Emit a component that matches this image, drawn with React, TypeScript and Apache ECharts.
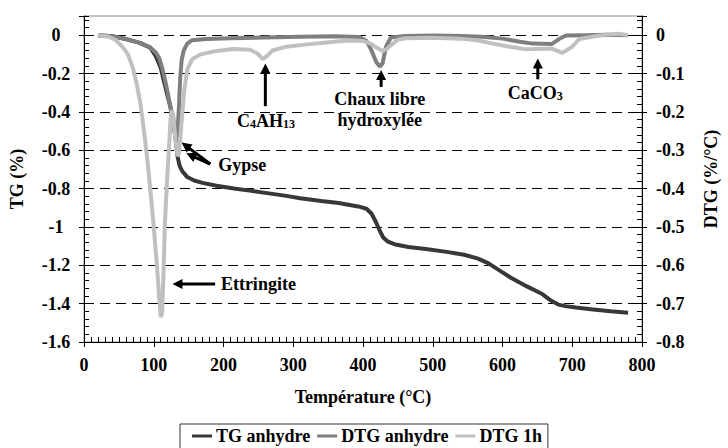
import React, { useEffect, useRef } from 'react';
import * as echarts from 'echarts';

const FONT = "'Liberation Serif', 'Times New Roman', serif";

// Temperature (°C), TG (%)
const tgAnhydre: number[][] = [
  [20, 0], [40, -0.005], [60, -0.02], [80, -0.04], [95, -0.065], [103, -0.11], [110, -0.17],
  [115, -0.245], [120, -0.32], [124, -0.375], [128, -0.44], [131, -0.53], [134, -0.63],
  [137, -0.68], [141, -0.71], [148, -0.74], [158, -0.758], [170, -0.77], [190, -0.785],
  [215, -0.8], [240, -0.812], [265, -0.825], [290, -0.838], [310, -0.85], [340, -0.865],
  [365, -0.875], [393, -0.893], [405, -0.905], [412, -0.93], [418, -0.97], [424, -1.02],
  [429, -1.055], [435, -1.075], [445, -1.09], [465, -1.105], [490, -1.115], [520, -1.13],
  [545, -1.145], [565, -1.165], [580, -1.19], [595, -1.225], [612, -1.265], [635, -1.31],
  [657, -1.35], [670, -1.385], [680, -1.405], [690, -1.413], [705, -1.42], [730, -1.43],
  [755, -1.44], [780, -1.448],
];

// Temperature (°C), DTG (%/°C)
const dtgAnhydre: number[][] = [
  [20, 0], [40, -0.003], [60, -0.01], [80, -0.02], [95, -0.032], [103, -0.045], [108, -0.06],
  [112, -0.085], [116, -0.115], [120, -0.15], [124, -0.19], [127, -0.22], [130, -0.255],
  [132, -0.27], [134, -0.255], [136, -0.19], [138, -0.11], [140, -0.065], [143, -0.04],
  [148, -0.022], [155, -0.013], [175, -0.01], [210, -0.008], [260, -0.006], [310, -0.004],
  [360, -0.003], [395, -0.005], [405, -0.015], [412, -0.039], [419, -0.07], [424, -0.082],
  [428, -0.074], [433, -0.03], [440, -0.006], [460, -0.002], [500, -0.001], [540, -0.002],
  [570, -0.004], [600, -0.009], [625, -0.017], [643, -0.022], [671, -0.023], [681, -0.01],
  [691, -0.001], [720, 0], [750, 0.001], [780, 0],
];

const dtg1h: number[][] = [
  [20, 0], [35, -0.004], [45, -0.012], [55, -0.03], [63, -0.05], [70, -0.085], [76, -0.13],
  [81, -0.18], [85, -0.235], [88, -0.28], [92, -0.345], [96, -0.42], [100, -0.5], [105, -0.61],
  [108, -0.69], [110, -0.735], [112, -0.725], [114, -0.62], [116, -0.49], [119, -0.38],
  [122, -0.29], [124, -0.22], [126, -0.195], [128, -0.21], [131, -0.27], [134, -0.315],
  [136, -0.31], [138, -0.27], [141, -0.2], [144, -0.14], [148, -0.09], [155, -0.063],
  [167, -0.05], [190, -0.041], [214, -0.036], [238, -0.038], [248, -0.047], [256, -0.062],
  [262, -0.055], [270, -0.04], [290, -0.03], [320, -0.024], [355, -0.018], [380, -0.014],
  [400, -0.015], [411, -0.022], [420, -0.033], [428, -0.041], [434, -0.036], [440, -0.026],
  [450, -0.012], [460, -0.008], [500, -0.007], [540, -0.009], [565, -0.014], [586, -0.022],
  [610, -0.03], [634, -0.037], [671, -0.035], [686, -0.046], [700, -0.03], [710, -0.01],
  [728, -0.004], [750, 0.002], [766, 0.004], [780, 0],
];

const seriesNames = ['TG anhydre', 'DTG anhydre', 'DTG 1h'];
const seriesColors = ['#383838', '#7f7f7f', '#c0c0c0'];

// annotations in (Temperature, DTG) coordinates
const annotationTexts = [
  { text: 'Ettringite', at: [250, -0.65] },
  { text: 'Gypse', at: [227, -0.339] },
  { text: '{n|C}{s|4}{n|AH}{s|13}', at: [261, -0.224] },
  { text: 'Chaux libre\nhydroxylée', at: [424, -0.195] },
  { text: '{n|CaCO}{s|3}', at: [647, -0.15] },
];
const annotationArrows = [
  { from: [188, -0.649], to: [126.8, -0.649] },
  { from: [181, -0.336], to: [140, -0.28] },
  { from: [181, -0.336], to: [146.6, -0.308] },
  { from: [260, -0.185], to: [260, -0.074] },
  { from: [426, -0.135], to: [426, -0.091] },
  { from: [650.6, -0.115], to: [650.6, -0.061] },
];

const labelStyle = { fontFamily: FONT, fontSize: 18, fontWeight: 'bold' as const, color: '#000' };

export default function App() {
  const ref = useRef<HTMLDivElement>(null);
  useEffect(() => {
    const chart = echarts.init(ref.current!, null, { renderer: 'svg' });
    const baseY = {
      type: 'value' as const,
      axisLine: { show: true, onZero: false, lineStyle: { color: '#000', width: 1 } },
    };
    const option: any = {
      animation: false,
      backgroundColor: '#fff',
      textStyle: { fontFamily: FONT },
      grid: { left: 82, right: 80, top: 16, bottom: 106, show: true, borderColor: '#8a8a8a', borderWidth: 1 },
      legend: {
        data: seriesNames,
        left: 180,
        top: 424,
        itemGap: 7,
        itemWidth: 20,
        itemHeight: 3,
        icon: 'rect',
        itemStyle: { borderWidth: 0 },
        padding: [3, 6, 5, 12],
        borderColor: '#333',
        borderWidth: 1,
        textStyle: { ...labelStyle, padding: [0, 0, 0, -1] },
      },
      xAxis: [
        {
          type: 'value', min: 0, max: 800, interval: 100,
          name: 'Température (°C)', nameLocation: 'middle', nameGap: 46,
          nameTextStyle: labelStyle,
          axisLine: { show: true, onZero: false, lineStyle: { color: '#000', width: 1 } },
          axisTick: { show: true, inside: true, length: 5, lineStyle: { color: '#000' } },
          minorTick: { show: true, splitNumber: 10, length: 5, lineStyle: { color: '#000' } },
          axisLabel: { ...labelStyle, margin: 14 },
          splitLine: { show: false },
        },
        {
          type: 'value', min: 0, max: 800, interval: 100, position: 'bottom',
          axisLine: { show: false, onZero: false },
          axisTick: { show: true, inside: false, length: 5, lineStyle: { color: '#000' } },
          axisLabel: { show: false },
          splitLine: { show: false },
        },
      ],
      yAxis: [
        {
          ...baseY, position: 'left', min: -1.6, max: 0.1, interval: 0.2,
          name: 'TG (%)', nameLocation: 'middle', nameGap: 58, nameRotate: 90,
          nameTextStyle: labelStyle,
          axisTick: { show: true, inside: true, length: 5, lineStyle: { color: '#000' } },
          minorTick: { show: true, splitNumber: 5, length: 5, lineStyle: { color: '#000' } },
          axisLabel: { ...labelStyle, margin: 28, align: 'center', showMaxLabel: false },
          splitLine: {
            show: true, showMinLine: false, showMaxLine: false,
            lineStyle: { color: '#000', width: 1, type: [10, 6] },
          },
        },
        {
          ...baseY, position: 'right', min: -0.8, max: 0.05, interval: 0.1,
          name: 'DTG (%/°C)', nameLocation: 'middle', nameGap: 60, nameRotate: 90,
          nameTextStyle: labelStyle,
          axisTick: { show: true, inside: true, length: 5, lineStyle: { color: '#000' } },
          minorTick: { show: true, splitNumber: 5, length: 5, lineStyle: { color: '#000' } },
          axisLabel: { ...labelStyle, margin: 14, align: 'left', showMaxLabel: false },
          splitLine: { show: false },
        },
        {
          type: 'value', position: 'left', min: -1.6, max: 0.1, interval: 0.2,
          axisLine: { show: false, onZero: false },
          axisTick: { show: true, inside: false, length: 5, lineStyle: { color: '#000' } },
          axisLabel: { show: false }, splitLine: { show: false },
        },
        {
          type: 'value', position: 'right', min: -0.8, max: 0.05, interval: 0.1,
          axisLine: { show: false, onZero: false },
          axisTick: { show: true, inside: false, length: 5, lineStyle: { color: '#000' } },
          axisLabel: { show: false }, splitLine: { show: false },
        },
      ],
      series: [
        { name: seriesNames[0], type: 'line', yAxisIndex: 0, data: tgAnhydre },
        { name: seriesNames[1], type: 'line', yAxisIndex: 1, data: dtgAnhydre },
        { name: seriesNames[2], type: 'line', yAxisIndex: 1, data: dtg1h },
      ].map((s, i) => ({
        ...s,
        showSymbol: false,
        symbol: 'none',
        silent: true,
        color: seriesColors[i],
        itemStyle: { color: seriesColors[i] },
        lineStyle: { color: seriesColors[i], width: 4 },
      })),
    };
    chart.setOption(option);

    const toPx = (p: number[]) => chart.convertToPixel({ seriesIndex: 1 }, p) as number[];
    const elements: any[] = [];
    annotationArrows.forEach((a) => {
      const p1 = toPx(a.from);
      const p2 = toPx(a.to);
      const dx = p2[0] - p1[0];
      const dy = p2[1] - p1[1];
      const len = Math.sqrt(dx * dx + dy * dy);
      const ux = dx / len;
      const uy = dy / len;
      const L = 10;
      const W = 5;
      const bx = p2[0] - ux * L;
      const by = p2[1] - uy * L;
      elements.push({
        type: 'line', silent: true, z: 100,
        shape: { x1: p1[0], y1: p1[1], x2: bx + ux * 2, y2: by + uy * 2 },
        style: { stroke: '#000', lineWidth: 3 },
      });
      elements.push({
        type: 'polygon', silent: true, z: 100,
        shape: {
          points: [
            [p2[0], p2[1]],
            [bx - uy * W, by + ux * W],
            [bx + uy * W, by - ux * W],
          ],
        },
        style: { fill: '#000' },
      });
    });
    annotationTexts.forEach((t) => {
      const p = toPx(t.at);
      elements.push({
        type: 'text', silent: true, z: 100,
        x: p[0], y: p[1],
        style: {
          text: t.text,
          fill: '#000',
          fontFamily: FONT,
          fontSize: 18,
          fontWeight: 'bold',
          lineHeight: 21,
          textAlign: 'center',
          textVerticalAlign: 'middle',
          align: 'center',
          verticalAlign: 'middle',
          rich: {
            n: { fontFamily: FONT, fontSize: 18, fontWeight: 'bold', lineHeight: 18, verticalAlign: 'top', fill: '#000' },
            s: { fontFamily: FONT, fontSize: 12, fontWeight: 'bold', lineHeight: 6, verticalAlign: 'bottom', fill: '#000' },
          },
        },
      });
    });
    chart.setOption({ graphic: elements });
    return () => chart.dispose();
  }, []);
  return (
    <div
      ref={ref}
      style={{ position: 'fixed', left: 0, top: 0, width: 728, height: 448, background: '#fff' }}
    />
  );
}
